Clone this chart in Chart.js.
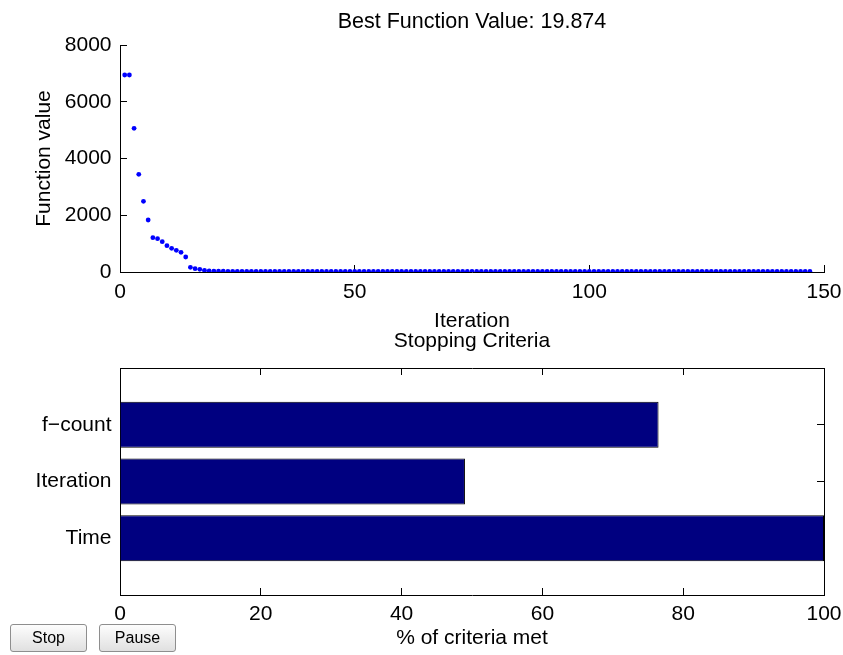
<!DOCTYPE html>
<html>
<head>
<meta charset="utf-8">
<script src="https://cdn.jsdelivr.net/npm/chart.js@4"></script>
<style>
  html, body { margin: 0; padding: 0; background: #fff; }
  body { width: 843px; height: 655px; position: relative; overflow: hidden; }
  canvas { position: absolute; left: 0; }
  #c1 { top: 0; }
  #c2 { top: 325px; }
  .btn {
    position: absolute; top: 624px; width: 77px; height: 28px;
    font-family: "Liberation Sans", Arial, sans-serif; font-size: 16px; color: #000;
    background: linear-gradient(#fdfdfd, #e0e0e0);
    border: 1px solid #8e8e8e; border-radius: 3px; padding: 0;
  }
</style>
</head>
<body>
<canvas id="c1" width="843" height="335"></canvas>
<canvas id="c2" width="843" height="330"></canvas>
<button class="btn" style="left:10px">Stop</button>
<button class="btn" style="left:99px">Pause</button>
<script>
// ---- Data ----
const bestValue = "19.874";
const functionValues = [
  6943, 6943, 5064, 3443, 2491, 1833, 1210, 1175, 1069, 927,
  834, 764, 693, 529, 165, 118, 95, 60, 35,
  31.2, 28.5, 26.7, 25.4, 24.6, 23.9, 23.3, 22.8, 22.4, 22.1,
  21.8, 21.6, 21.4, 21.2, 21.0, 20.9, 20.8, 20.7, 20.6, 20.5,
  20.45, 20.4, 20.35, 20.3, 20.26, 20.22, 20.19, 20.16, 20.13, 20.1,
  20.08, 20.06, 20.04, 20.02, 20.0, 19.99, 19.98, 19.97, 19.96, 19.95,
  19.94, 19.93, 19.93, 19.92, 19.92, 19.91, 19.91, 19.9, 19.9, 19.9,
  19.89, 19.89, 19.89, 19.89, 19.89, 19.89, 19.89, 19.89, 19.89, 19.89,
  19.885, 19.885, 19.885, 19.885, 19.885, 19.885, 19.885, 19.885, 19.885, 19.885,
  19.88, 19.88, 19.88, 19.88, 19.88, 19.88, 19.88, 19.88, 19.88, 19.88,
  19.88, 19.88, 19.88, 19.88, 19.88, 19.88, 19.88, 19.88, 19.88, 19.88,
  19.877, 19.877, 19.877, 19.877, 19.877, 19.877, 19.877, 19.877, 19.877, 19.877,
  19.877, 19.877, 19.877, 19.877, 19.877, 19.877, 19.877, 19.877, 19.877, 19.877,
  19.874, 19.874, 19.874, 19.874, 19.874, 19.874, 19.874, 19.874, 19.874, 19.874,
  19.874, 19.874, 19.874, 19.874, 19.874, 19.874, 19.874, 19.874
];
const iterTicks = [0, 50, 100, 150];
const valueTicks = [0, 2000, 4000, 6000, 8000];

const criteria = ["f\u2212count", "Iteration", "Time"];
const criteriaMet = [76.5, 49.0, 100];
const pctTicks = [0, 20, 40, 60, 80, 100];

// ---- Styles ----
const FONT = { family: "'Liberation Sans', Arial, Helvetica, sans-serif", size: 21, weight: 'normal' };
const TITLE_FONT = { family: FONT.family, size: 21.5, weight: 'normal' };
const TL = -7; // inward ticks
function fixedTicks(list) {
  return function (scale) { scale.ticks = list.map(v => ({ value: v })); };
}
function axisBase(list) {
  return {
    type: 'linear',
    offset: false,
    afterBuildTicks: fixedTicks(list),
    border: { display: true, color: '#000', width: 1 },
    grid: { offset: false, drawOnChartArea: false, drawTicks: true, tickLength: TL, color: '#000', lineWidth: 1 },
    ticks: { color: '#000', font: FONT, padding: 14, maxRotation: 0, autoSkip: false, callback: v => String(v) }
  };
}
function hFit(h) { return s => { s.height = h; s.paddingLeft = 0; s.paddingRight = 0; }; }
function vFit(w) { return s => { s.width = w; s.paddingTop = 0; s.paddingBottom = 0; }; }

// ---- Top chart ----
const pts = functionValues.map((v, i) => ({ x: i + 1, y: v }));
const xTop = axisBase(iterTicks);
Object.assign(xTop, {
  position: 'bottom', min: 0, max: 150,
  title: { display: true, text: 'Iteration', color: '#000', font: FONT, padding: { top: 0, bottom: 1.5 } },
  afterFit: hFit(335 - 272)
});
xTop.ticks.padding = 15;
const yTop = axisBase(valueTicks);
Object.assign(yTop, {
  position: 'left', min: 0, max: 8000,
  title: { display: true, text: 'Function value', color: '#000', font: FONT, padding: { top: 31.4, bottom: 0 } },
  afterFit: vFit(120)
});
yTop.ticks.padding = 15.5;

new Chart(document.getElementById('c1'), {
  type: 'scatter',
  data: { datasets: [{ data: pts, pointRadius: 2.4, pointBackgroundColor: '#0000ff', pointBorderWidth: 0, showLine: false }] },
  options: {
    responsive: false, animation: false, devicePixelRatio: 1,
    layout: { padding: { left: 0, right: 19, top: 0, bottom: 0 } },
    plugins: {
      legend: { display: false }, tooltip: { enabled: false },
      title: { display: true, fullSize: false, text: 'Best Function Value: ' + bestValue, color: '#000', font: TITLE_FONT,
               padding: { top: 9, bottom: 10.2 } }
    },
    scales: { x: xTop, y: yTop }
  }
});

// ---- Bottom chart ----
const catPos = criteria.map((c, i) => i + 1);
const bars = criteriaMet.map((v, i) => ({ x: v, y: catPos[i] }));
const xBot = axisBase(pctTicks);
Object.assign(xBot, {
  position: 'bottom', min: 0, max: 100,
  title: { display: true, text: '% of criteria met', color: '#000', font: FONT, padding: { top: 0, bottom: 4.1 } },
  afterFit: hFit(60)
});
xBot.ticks.padding = 13.5;
const x2Bot = axisBase(pctTicks);
Object.assign(x2Bot, { position: 'top', min: 0, max: 100, afterFit: hFit(0) });
x2Bot.ticks.display = false;
const yBot = axisBase(catPos);
Object.assign(yBot, {
  position: 'left', min: 0, max: 4, reverse: true,
  afterFit: vFit(120)
});
yBot.ticks.padding = 15.5;
yBot.ticks.callback = v => criteria[v - 1];
const y2Bot = axisBase(catPos);
Object.assign(y2Bot, { position: 'right', min: 0, max: 4, reverse: true, afterFit: vFit(0) });
y2Bot.ticks.display = false;

new Chart(document.getElementById('c2'), {
  type: 'bar',
  data: { datasets: [{ data: bars, backgroundColor: '#000080', borderColor: '#000', borderWidth: 1,
                       barPercentage: 0.81, categoryPercentage: 1 }] },
  options: {
    indexAxis: 'y',
    responsive: false, animation: false, devicePixelRatio: 1,
    layout: { padding: { left: 0, right: 19, top: 0, bottom: 0 } },
    plugins: {
      legend: { display: false }, tooltip: { enabled: false },
      title: { display: true, fullSize: false, text: 'Stopping Criteria', color: '#000', font: FONT,
               padding: { top: 4.1, bottom: 13.7 } }
    },
    scales: { x: xBot, x2: x2Bot, y: yBot, y2: y2Bot }
  }
});
</script>
</body>
</html>
